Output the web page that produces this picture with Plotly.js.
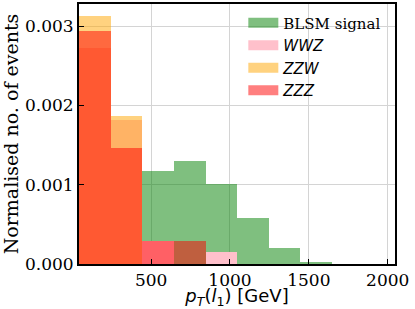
<!DOCTYPE html>
<html>
<head>
<meta charset="utf-8">
<script src="https://cdn.plot.ly/plotly-3.0.1.min.js"></script>
<style>
html,body{margin:0;padding:0;background:#fff;}
#chart{width:415px;height:309px;}
</style>
</head>
<body>
<div id="chart"></div>
<script>
// Bin centres (GeV), bin width 200 GeV
var binCenters = [145, 345, 545, 745, 945, 1145, 1345, 1545];
var binWidth = 200;
// Normalised histogram heights
var signalVals = [0.00015, 0.00056, 0.001173, 0.001303, 0.00101, 0.00058, 0.000198, 0.000022];
var wwzVals    = [0.002728, 0.00182, 0.00029, 0, 0.000147, 0, 0, 0];
var zzwVals    = [0.003127, 0.00187, 0, 0, 0, 0, 0, 0];
var zzzVals    = [0.002944, 0.001467, 0.00029, 0.00029, 0, 0, 0, 0];
var seriesNames = ['BLSM signal', '<span style="font-family:DejaVu Sans"><i>WWZ</i></span>',
                   '<span style="font-family:DejaVu Sans"><i>ZZW</i></span>',
                   '<span style="font-family:DejaVu Sans"><i>ZZZ</i></span>'];
var xTicks = [500, 1000, 1500, 2000];
var yTicks = [0, 0.001, 0.002, 0.003];

var colors = ['rgba(0,128,0,0.5)', 'rgb(255,192,203)', 'rgba(255,165,0,0.5)', 'rgba(255,0,0,0.5)'];
var allVals = [signalVals, wwzVals, zzwVals, zzzVals];

var traces = [];
allVals.forEach(function(v, i){
  traces.push({
    type: 'bar', x: binCenters, y: v, width: binWidth,
    marker: {color: colors[i], line: {width: 0}},
    name: seriesNames[i], showlegend: false, hoverinfo: 'skip'
  });
});
// legend entries (patch-like swatches)
allVals.forEach(function(v, i){
  traces.push({
    type: 'scatter', mode: 'lines', x: [null], y: [null],
    line: {color: colors[i], width: 10},
    name: seriesNames[i], showlegend: true, hoverinfo: 'skip'
  });
});

var serif = 'DejaVu Serif, serif';
var layout = {
  width: 415, height: 309,
  margin: {l: 79, r: 20, t: 4, b: 45},
  paper_bgcolor: '#fff', plot_bgcolor: '#fff',
  barmode: 'overlay', bargap: 0,
  showlegend: true,
  legend: {
    x: 0.52, xanchor: 'left', y: 0.99, yanchor: 'top',
    bgcolor: 'rgba(0,0,0,0)', borderwidth: 0,
    font: {family: serif, size: 15, color: '#000'},
    tracegroupgap: 0
  },
  xaxis: {
    range: [43, 2046],
    tickvals: xTicks, ticktext: xTicks.map(String),
    ticks: 'inside', ticklen: 5, tickwidth: 1, tickcolor: '#000',
    showline: true, linecolor: '#000', linewidth: 2, mirror: true,
    showgrid: true, gridcolor: '#d4d4d4', gridwidth: 1,
    zeroline: false,
    tickfont: {family: serif, size: 17, color: '#000'},
    title: {text: '<i>p</i><sub><i>T</i></sub>(<i>l</i><sub>1</sub>) [GeV]',
            font: {family: 'DejaVu Sans, sans-serif', size: 18, color: '#000'}, standoff: 0}
  },
  yaxis: {
    range: [0, 0.00328],
    tickvals: yTicks, tickformat: '.3f',
    ticks: 'inside', ticklen: 5, tickwidth: 1, tickcolor: '#000',
    showline: true, linecolor: '#000', linewidth: 2, mirror: true,
    showgrid: true, gridcolor: '#d4d4d4', gridwidth: 1,
    zeroline: false,
    tickfont: {family: serif, size: 17, color: '#000'},
    title: {text: 'Normalised no. of events',
            font: {family: serif, size: 19, color: '#000'}, standoff: 4}
  }
};

Plotly.newPlot('chart', traces, layout, {displayModeBar: false, staticPlot: true});
</script>
</body>
</html>
